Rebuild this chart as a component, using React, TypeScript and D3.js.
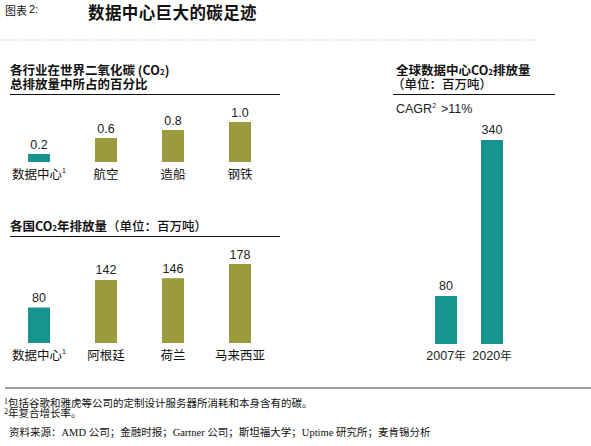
import React from "react";
import * as d3 from "d3";

const industries = ["数据中心", "航空", "造船", "钢铁"];
const industryShare = [0.2, 0.6, 0.8, 1.0];
const industryLabels = ["0.2", "0.6", "0.8", "1.0"];

const countries = ["数据中心", "阿根廷", "荷兰", "马来西亚"];
const countryEmissions = [80, 142, 146, 178];

const years = ["2007年", "2020年"];
const globalEmissions = [80, 340];

const TEAL = "#17948f";
const OLIVE = "#9b9b3e";
const SANS = "'Noto Sans CJK SC', 'Liberation Sans', sans-serif";
const NARROW = "'Liberation Sans Narrow', 'Liberation Sans', sans-serif";
const SERIF = "'Liberation Serif', 'DejaVu Serif', 'Noto Sans CJK SC', serif";

const xCat = (domain: string[]) =>
  d3.scaleBand<string>().domain(domain).range([5.5, 273.5]).paddingInner(0.672).paddingOuter(0.336);

function CatLabel({ x, y, text, sup }: { x: number; y: number; text: string; sup?: boolean }) {
  return (
    <text x={x} y={y} textAnchor="middle" fontFamily={SANS} fontSize={12.5} fill="#111">
      {text}
      {sup && (
        <tspan fontSize={7} dy={-6} fontFamily={NARROW}>
          1
        </tspan>
      )}
    </text>
  );
}

export default function App() {
  const x1 = xCat(industries);
  const y1 = d3.scaleLinear().domain([0, 1]).range([162, 122]);
  const x2 = xCat(countries);
  const y2 = d3.scaleLinear().domain([0, 178]).range([343, 264]);
  const x3 = d3.scaleBand<string>().domain(years).range([423, 515]).paddingInner(0.522).paddingOuter(0.261);
  const y3 = d3.scaleLinear().domain([0, 340]).range([344, 140]);

  return (
    <svg
      width={591}
      height={446}
      style={{ position: "absolute", left: 0, top: 0, background: "#fff" }}
    >
      {/* header */}
      <text x={5} y={15} fontFamily={SANS} fontSize={11} fill="#111">
        图表
        <tspan fontFamily={NARROW} fontSize={11} dx={2} dy={-2}>2:</tspan>
      </text>
      <text x={88} y={19} fontFamily={SANS} fontSize={16.5} fontWeight="bold" fill="#111" letterSpacing={0.4}>
        数据中心巨大的碳足迹
      </text>
      <line x1={0} x2={536} y1={40} y2={40} stroke="#aaa" strokeWidth={1} strokeDasharray="1,2" />

      {/* panel 1 */}
      <text x={10} y={75} fontFamily={SANS} fontSize={12.5} fontWeight="bold" fill="#111">
        <tspan>各行业在世界二氧化碳 (CO</tspan>
        <tspan fontSize={8}>2</tspan>
        <tspan>)</tspan>
        <tspan x={10} dy={14}>总排放量中所占的百分比</tspan>
      </text>
      <line x1={10} x2={280} y1={94.5} y2={94.5} stroke="#111" strokeWidth={1.2} />
      {industries.map((c, i) => (
        <g key={c}>
          <rect
            x={x1(c)!}
            y={y1(industryShare[i])}
            width={x1.bandwidth()}
            height={y1(0) - y1(industryShare[i])}
            fill={i === 0 ? TEAL : OLIVE}
          />
          <text
            x={x1(c)! + x1.bandwidth() / 2}
            y={y1(industryShare[i]) - 5.5}
            textAnchor="middle"
            fontFamily={NARROW}
            fontSize={12.5}
            fill="#222"
          >
            {industryLabels[i]}
          </text>
          <CatLabel x={x1(c)! + x1.bandwidth() / 2} y={179} text={c} sup={i === 0} />
        </g>
      ))}

      {/* panel 2 */}
      <text x={10} y={231} fontFamily={SANS} fontSize={12.5} fill="#111">
        <tspan fontWeight="bold">各国CO</tspan>
        <tspan fontWeight="bold" fontSize={8}>2</tspan>
        <tspan fontWeight="bold">年排放量</tspan>
        <tspan fontWeight={500}>（单位：百万吨）</tspan>
      </text>
      <line x1={10} x2={280} y1={236.5} y2={236.5} stroke="#111" strokeWidth={1.2} />
      {countries.map((c, i) => (
        <g key={c}>
          <rect
            x={x2(c)!}
            y={y2(countryEmissions[i])}
            width={x2.bandwidth()}
            height={y2(0) - y2(countryEmissions[i])}
            fill={i === 0 ? TEAL : OLIVE}
          />
          <text
            x={x2(c)! + x2.bandwidth() / 2}
            y={y2(countryEmissions[i]) - 5.5}
            textAnchor="middle"
            fontFamily={NARROW}
            fontSize={12.5}
            fill="#222"
          >
            {countryEmissions[i]}
          </text>
          <CatLabel x={x2(c)! + x2.bandwidth() / 2} y={360} text={c} sup={i === 0} />
        </g>
      ))}

      {/* panel 3 */}
      <text x={396} y={75} fontFamily={SANS} fontSize={12.5} fill="#111">
        <tspan fontWeight="bold">全球数据中心CO</tspan>
        <tspan fontWeight="bold" fontSize={8}>2</tspan>
        <tspan fontWeight="bold">排放量</tspan>
        <tspan x={392} dy={14} fontWeight={500}>（单位：百万吨）</tspan>
      </text>
      <line x1={393} x2={555} y1={94.5} y2={94.5} stroke="#111" strokeWidth={1.2} />
      <text x={396} y={113} fontFamily={NARROW} fontSize={12.5} fill="#222">
        CAGR<tspan fontSize={7} dy={-5}>2</tspan>
        <tspan dy={5} dx={5}>&gt;11%</tspan>
      </text>
      {years.map((c, i) => (
        <g key={c}>
          <rect
            x={x3(c)!}
            y={y3(globalEmissions[i])}
            width={x3.bandwidth()}
            height={y3(0) - y3(globalEmissions[i])}
            fill={TEAL}
          />
          <text
            x={x3(c)! + x3.bandwidth() / 2}
            y={y3(globalEmissions[i]) - 6}
            textAnchor="middle"
            fontFamily={NARROW}
            fontSize={12.5}
            fill="#222"
          >
            {globalEmissions[i]}
          </text>
          <text
            x={x3(c)! + x3.bandwidth() / 2}
            y={360}
            textAnchor="middle"
            fontFamily={NARROW}
            fontSize={12.5}
            fill="#222"
          >
            {c.replace("年", "")}
            <tspan fontFamily={SANS} fontSize={11.5}>年</tspan>
          </text>
        </g>
      ))}

      {/* footer */}
      <line x1={5} x2={591} y1={388} y2={388} stroke="#444" strokeWidth={1} />
      <text x={4} y={407} fontFamily={SERIF} fontSize={10.5} fill="#111">
        <tspan fontSize={8} dy={-3}>1</tspan>
        <tspan dy={3}>包括谷歌和雅虎等公司的定制设计服务器所消耗和本身含有的碳。</tspan>
        <tspan x={4} dy={7} fontSize={8}>2</tspan>
        <tspan dy={3}>年复合增长率。</tspan>
      </text>
      <text x={9} y={436} fontFamily={SERIF} fontSize={10.5} fill="#111">
        资料来源：AMD 公司；金融时报；Gartner 公司；斯坦福大学；Uptime 研究所；麦肯锡分析
      </text>
    </svg>
  );
}
